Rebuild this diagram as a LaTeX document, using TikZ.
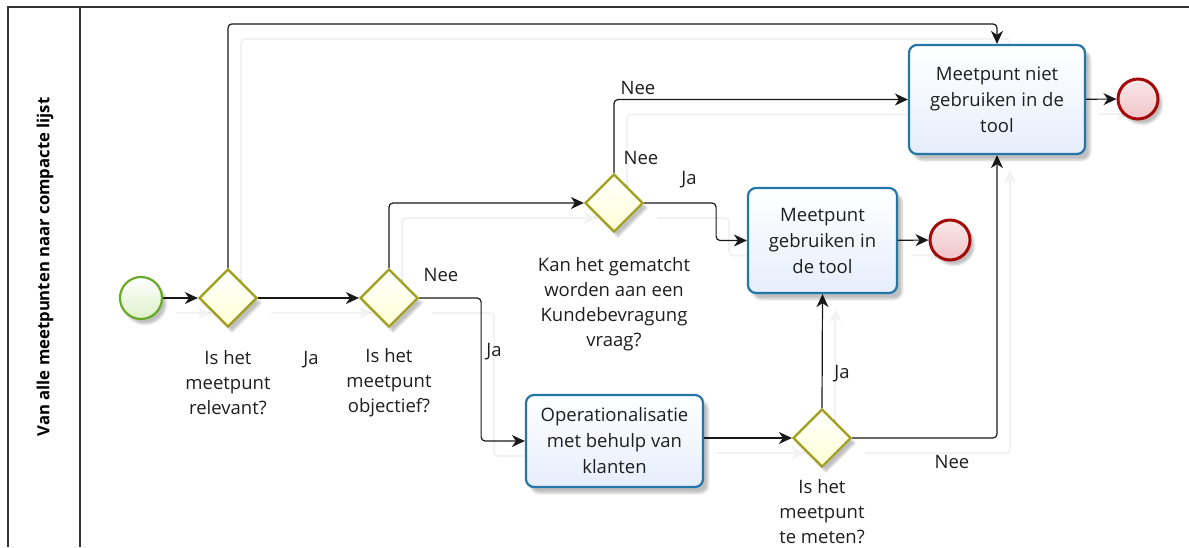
\documentclass[tikz,border=0pt]{standalone}
\usepackage{fontspec}
\setmainfont{Open Sans}
\usetikzlibrary{arrows.meta,shapes.geometric,shadows.blur}

\definecolor{gwline}{RGB}{160,160,30}
\definecolor{gwfill}{RGB}{255,255,214}
\definecolor{taskline}{RGB}{36,118,168}
\definecolor{taskfill}{RGB}{230,238,252}
\definecolor{startline}{RGB}{104,170,40}
\definecolor{startfill}{RGB}{220,240,200}
\definecolor{endline}{RGB}{165,10,10}
\definecolor{endfill}{RGB}{240,196,200}
\definecolor{txt}{RGB}{30,30,30}

\pgfdeclarelayer{bg}
\pgfsetlayers{bg,main}

\tikzset{
  gateway/.style={diamond, shape aspect=1, minimum width=58pt, minimum height=58pt,
    inner sep=0pt, draw=gwline, line width=2.2pt, top color=white, bottom color=gwfill,
    blur shadow={shadow xshift=4pt, shadow yshift=-5pt, shadow opacity=25}},
  task/.style={rectangle, rounded corners=8pt, draw=taskline, line width=2.2pt,
    top color=white, bottom color=taskfill, align=center, text=txt,
    font=\fontsize{18.5}{26}\selectfont,
    blur shadow={shadow xshift=5pt, shadow yshift=-6pt, shadow opacity=25}},
  startev/.style={circle, minimum size=42pt, inner sep=0pt, draw=startline, line width=2.2pt,
    top color=white, bottom color=startfill,
    blur shadow={shadow xshift=4pt, shadow yshift=-5pt, shadow opacity=25}},
  endev/.style={circle, minimum size=40pt, inner sep=0pt, draw=endline, line width=3pt,
    top color=white!60!endfill, bottom color=endfill,
    blur shadow={shadow xshift=4pt, shadow yshift=-5pt, shadow opacity=25}},
  lbl/.style={align=center, text=txt, font=\fontsize{18.5}{25}\selectfont, inner sep=0pt},
  flow/.style={draw=black!90, line width=1.2pt, rounded corners=4pt,
    -{Stealth[length=13pt,width=12pt,inset=4pt]},
    preaction={draw=black!5, line width=2pt, transform canvas={shift={(13pt,-15pt)}}}},
  lane/.style={draw=black!80, line width=1.6pt}
}

\begin{document}
\begin{tikzpicture}[x=1pt,y=-1pt]
  \useasboundingbox (0,0) rectangle (1189,547);

  % pool and lane header
  \draw[lane] (8,547) -- (8,7) -- (1189,7);
  \draw[lane] (80,7) -- (80,547);
  \node[rotate=90, font=\bfseries\fontsize{16.7}{18}\selectfont, text=black] (lanetitle) at (45,267)
    {Van alle meetpunten naar compacte lijst};

  % events, gateways, tasks
  \node[startev] (start) at (141,298) {};
  \node[gateway] (g1) at (228,298) {};
  \node[gateway] (g2) at (389,298) {};
  \node[gateway] (g3) at (614,203) {};
  \node[gateway] (g4) at (822,438) {};

  \node[task, minimum width=149pt, minimum height=105pt] (t1) at (822.5,240.5)
    {Meetpunt\\gebruiken in\\de tool};
  \node[task, minimum width=176pt, minimum height=109pt] (t2) at (997,99.5)
    {Meetpunt niet\\gebruiken in de\\tool};
  \node[task, minimum width=177pt, minimum height=92pt] (t3) at (614.5,441)
    {Operationalisatie\\met behulp van\\klanten};

  \node[endev] (e1) at (950,240) {};
  \node[endev] (e2) at (1138,99) {};

  % gateway captions
  \node[lbl] (g1text) at (228,383) {Is het\\meetpunt\\relevant?};
  \node[lbl] (g2text) at (389,383) {Is het\\meetpunt\\objectief?};
  \node[lbl] (g3text) at (614,304) {Kan het gematcht\\worden aan een\\Kundebevragung\\vraag?};
  \node[lbl] (g4text) at (822,512) {Is het\\meetpunt\\te meten?};

  % sequence flows
  \begin{pgfonlayer}{bg}
    \draw[flow] (start) -- (g1);
    \draw[flow] (g1.north) |- ([yshift=20pt]t2.north) -- (t2.north);
    \draw[flow] (g1) -- (g2);
    \draw[flow] (g2.north) |- (g3.west);
    \draw[flow] (g2.east) -- ++(62,0) |- (t3.west);
    \draw[flow] (g3.north) |- (t2.west);
    \draw[flow] (g3.east) -- ++(72,0) |- (t1.west);
    \draw[flow] (t1) -- (e1);
    \draw[flow] (t3.east |- g4.west) -- (g4.west);
    \draw[flow] (g4.north) -- (t1.south);
    \draw[flow] (g4.east) -| (t2.south);
    \draw[flow] (t2) -- (e2);
  \end{pgfonlayer}

  % flow labels
  \node[lbl] (ja1) at (311,360) {Ja};
  \node[lbl] (nee2) at (441,275) {Nee};
  \node[lbl] (ja2) at (494,352) {Ja};
  \node[lbl] (nee3a) at (638,88) {Nee};
  \node[lbl] (nee3b) at (641,158) {Nee};
  \node[lbl] (ja3) at (689,180) {Ja};
  \node[lbl] (ja4) at (842,374) {Ja};
  \node[lbl] (nee4) at (952,462) {Nee};
\end{tikzpicture}
\end{document}
